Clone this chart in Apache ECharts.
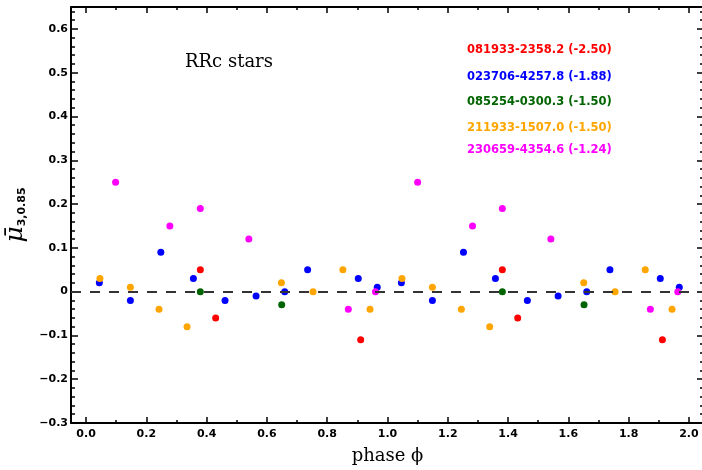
<!DOCTYPE html>
<html><head><meta charset="utf-8">
<script src="https://cdn.jsdelivr.net/npm/echarts@6/dist/echarts.min.js"></script>
<style>html,body{margin:0;padding:0;background:#fff}#c{width:702px;height:470px}</style>
</head><body><div id="c"></div>
<script>
// ---- data ----
const redName = '081933-2358.2 (-2.50)';
const redPhase = [0.379, 0.430, 0.911, 1.381, 1.432, 1.912];
const redVal   = [0.05, -0.06, -0.11, 0.05, -0.06, -0.11];

const blueName = '023706-4257.8 (-1.88)';
const bluePhase = [0.044, 0.147, 0.248, 0.356, 0.461, 0.564, 0.659, 0.735, 0.903, 0.966,
                   1.046, 1.149, 1.252, 1.358, 1.464, 1.566, 1.661, 1.738, 1.905, 1.968];
const blueVal   = [0.02, -0.02, 0.09, 0.03, -0.02, -0.01, 0.00, 0.05, 0.03, 0.01,
                   0.02, -0.02, 0.09, 0.03, -0.02, -0.01, 0.00, 0.05, 0.03, 0.01];

const greenName = '085254-0300.3 (-1.50)';
const greenPhase = [0.379, 0.649, 1.381, 1.652];
const greenVal   = [0.00, -0.03, 0.00, -0.03];

const orangeName = '211933-1507.0 (-1.50)';
const orangePhase = [0.046, 0.147, 0.242, 0.335, 0.648, 0.753, 0.852, 0.942,
                     1.048, 1.149, 1.245, 1.339, 1.651, 1.755, 1.855, 1.944];
const orangeVal   = [0.03, 0.01, -0.04, -0.08, 0.02, 0.00, 0.05, -0.04,
                     0.03, 0.01, -0.04, -0.08, 0.02, 0.00, 0.05, -0.04];

const magentaName = '230659-4354.6 (-1.24)';
const magentaPhase = [0.098, 0.278, 0.379, 0.540, 0.870, 0.960,
                      1.100, 1.282, 1.381, 1.542, 1.872, 1.963];
const magentaVal   = [0.25, 0.15, 0.19, 0.12, -0.04, 0.00,
                      0.25, 0.15, 0.19, 0.12, -0.04, 0.00];

// ---- ticks ----
const xMajor = [0.0, 0.2, 0.4, 0.6, 0.8, 1.0, 1.2, 1.4, 1.6, 1.8, 2.0];
const xMinor = [0.1, 0.3, 0.5, 0.7, 0.9, 1.1, 1.3, 1.5, 1.7, 1.9];
const yMajor = [-0.3, -0.2, -0.1, 0.0, 0.1, 0.2, 0.3, 0.4, 0.5, 0.6];
const yMinor = [];
for (let i = -14; i <= 32; i++) { if (i % 5 !== 0) yMinor.push(+(i * 0.02).toFixed(2)); }

const xRange = [-0.05, 2.05];
const yRange = [-0.3, 0.65];
const title = 'RRc stars';

function pairs(p, v) { return p.map((x, i) => [x, v[i]]); }
const minus = s => s.replace('-', '\u2212');
const tickFont = {color:'#000', fontFamily:'DejaVu Sans', fontWeight:'bold', fontSize:11};

function xAx(pos, ticks, len, showLine, showLabel) {
  return {
    type:'value', position:pos, min:xRange[0], max:xRange[1],
    axisLine:{show:showLine, onZero:false, lineStyle:{color:'#000', width:2}},
    axisTick:{show:true, inside:true, length:len, customValues:ticks, lineStyle:{color:'#000', width:1.5}},
    axisLabel:showLabel ? Object.assign({customValues:ticks, margin:6, formatter:v => minus(v.toFixed(1))}, tickFont) : {show:false},
    splitLine:{show:false}
  };
}
function yAx(pos, ticks, len, showLine, showLabel) {
  return {
    type:'value', position:pos, min:yRange[0], max:yRange[1],
    axisLine:{show:showLine, onZero:false, lineStyle:{color:'#000', width:2}},
    axisTick:{show:true, inside:true, length:len, customValues:ticks, lineStyle:{color:'#000', width:1.5}},
    axisLabel:showLabel ? Object.assign({customValues:ticks, margin:3, formatter:v => Math.abs(v) < 1e-9 ? '0' : minus(v.toFixed(1))}, tickFont) : {show:false},
    splitLine:{show:false}
  };
}

const xA0 = xAx('bottom', xMajor, 6, true, true);
Object.assign(xA0, {name:'phase \u03D5', nameLocation:'middle', nameGap:24,
  nameTextStyle:{fontFamily:'DejaVu Serif', fontSize:18, color:'#000'}});
const yA0 = yAx('left', yMajor, 7, true, true);
Object.assign(yA0, {name:'{mu|\u03BC\u0304}{sub|3,0.85}', nameLocation:'middle', nameGap:34, nameRotate:90,
  nameTextStyle:{rich:{
    mu:{fontFamily:'DejaVu Serif', fontStyle:'italic', fontSize:25, color:'#000', lineHeight:28},
    sub:{fontFamily:'DejaVu Sans', fontWeight:'bold', fontSize:11, color:'#000', padding:[12,0,0,0], lineHeight:28}
  }}});

function sc(name, color, p, v) {
  return {type:'scatter', name:name, data:pairs(p, v), symbolSize:7, itemStyle:{color:color, opacity:1}, xAxisIndex:0, yAxisIndex:0};
}

const legendLines = [
  {t:redName, c:'#ff0000', y:50},
  {t:blueName, c:'#0000ff', y:77},
  {t:greenName, c:'#006400', y:102},
  {t:orangeName, c:'#ffa500', y:128},
  {t:magentaName, c:'#ff00ff', y:150}
];

const option = {
  animation:false,
  backgroundColor:'#fff',
  grid:{left:71, top:7, width:633, height:416, containLabel:false, outerBoundsMode:'none'},
  xAxis:[xA0, xAx('bottom', xMinor, 3, false, false), xAx('top', xMajor, 6, true, false), xAx('top', xMinor, 3, false, false)],
  yAxis:[yA0, yAx('left', yMinor, 4, false, false), yAx('right', yMajor, 7, true, false), yAx('right', yMinor, 4, false, false)],
  series:[
    {type:'scatter', data:[], xAxisIndex:0, yAxisIndex:0, silent:true,
     markLine:{silent:true, symbol:['none','none'], label:{show:false},
       lineStyle:{color:'#333', width:2, type:[10,9]}, data:[{yAxis:0}]}},
    sc(redName, '#ff0000', redPhase, redVal),
    sc(blueName, '#0000ff', bluePhase, blueVal),
    sc(greenName, '#006400', greenPhase, greenVal),
    sc(orangeName, '#ffa500', orangePhase, orangeVal),
    sc(magentaName, '#ff00ff', magentaPhase, magentaVal)
  ],
  graphic:[
    {type:'text', x:185, y:62, style:{text:title, fill:'#000', font:'18px "DejaVu Serif"', textVerticalAlign:'middle'}}
  ].concat(legendLines.map(l => ({type:'text', x:467, y:l.y,
     style:{text:l.t, fill:l.c, font:'bold 11.5px "DejaVu Sans"', textVerticalAlign:'middle'}})))
};
const chart = echarts.init(document.getElementById('c'), null, {renderer:'canvas'});
chart.setOption(option);
</script></body></html>
